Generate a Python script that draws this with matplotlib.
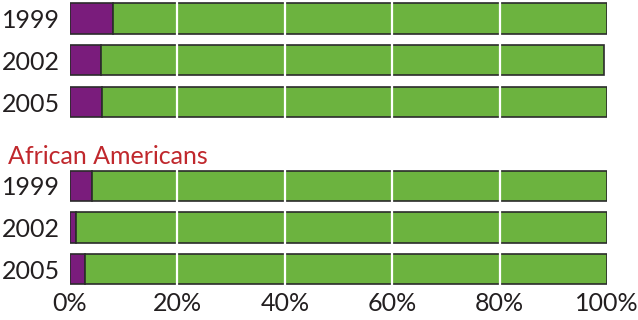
import matplotlib
matplotlib.use("Agg")
import matplotlib.pyplot as plt
import matplotlib.transforms as mtransforms

years = ["1999", "2002", "2005", "1999", "2002", "2005"]
purple_vals = [8.0, 5.8, 6.0, 4.1, 1.1, 2.8]
totals = [100.0, 99.4, 100.0, 100.0, 100.0, 100.0]
green_vals = [t - p for t, p in zip(totals, purple_vals)]
group_title = "African Americans"
x_ticks = [0, 20, 40, 60, 80, 100]
x_ticklabels = ["0%", "20%", "40%", "60%", "80%", "100%"]

positions = [0, 1, 2, 4, 5, 6]

plt.rcParams['font.family'] = ['Lato', 'DejaVu Sans']

fig = plt.figure(figsize=(6.38, 3.2), dpi=100)
W, H = 638, 320
left, right = 70 / W, 607 / W
top_px, bot_px = 0, 288
ax = fig.add_axes([left, 1 - bot_px / H, right - left, (bot_px - top_px) / H])

purple = '#7a1c7c'
green = '#6cb33f'
edge = '#2b2b2b'

ax.barh(positions, purple_vals, height=0.72, color=purple, edgecolor=edge, linewidth=1.2, zorder=2)
ax.barh(positions, green_vals, left=purple_vals, height=0.72, color=green, edgecolor=edge, linewidth=1.2, zorder=2)

unit = 41.8
y0 = 18.5
ax.set_ylim((bot_px - y0) / unit, (top_px - y0) / unit)
ax.set_xlim(0, 100)

for g in [20, 40, 60, 80]:
    ax.axvline(g, color='white', linewidth=1.6, zorder=3)

ax.set_yticks(positions)
ax.set_yticklabels(years, fontsize=18, color='#231f20')
ax.set_xticks(x_ticks)
ax.set_xticklabels(x_ticklabels, fontsize=18, color='#231f20')
ax.tick_params(axis='both', length=0)
ax.tick_params(axis='y', pad=7)
ax.tick_params(axis='x', pad=3)
for s in ax.spines.values():
    s.set_visible(False)

trans = mtransforms.blended_transform_factory(ax.transAxes, ax.transData)
ax.text((8 - 70) / 537, 3.3, group_title, transform=trans, fontsize=18,
        color='#c0282d', ha='left', va='center')

fig.savefig("out.png", dpi=100)
